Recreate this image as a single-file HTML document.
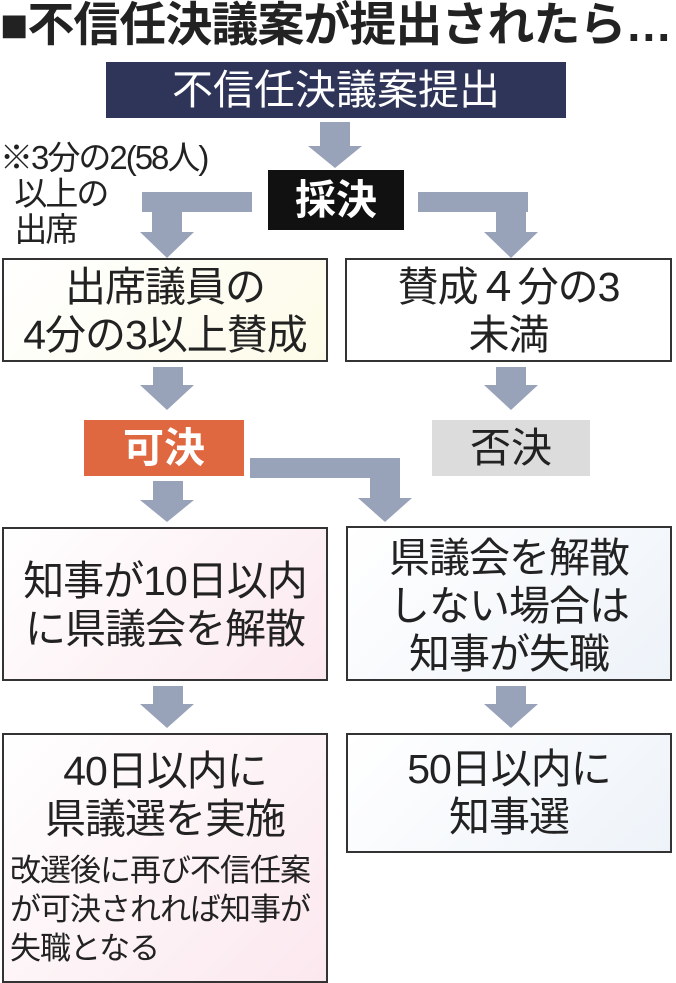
<!DOCTYPE html>
<html><head><meta charset="utf-8"><style>
body{margin:0;width:676px;height:977px;background:#fff;position:relative;overflow:hidden;font-family:"Liberation Sans","Noto Sans CJK JP",sans-serif;color:#222}
.a{position:absolute}
.box{position:absolute;box-sizing:border-box;border:2px solid #333;text-align:center;font-size:41px;line-height:48px;white-space:nowrap;letter-spacing:-1px}
</style></head><body>
<div class="a" style="left:0;top:-2px;font-size:47px;font-weight:bold;line-height:54px;white-space:nowrap;letter-spacing:-1px">■不信任決議案が提出されたら…</div>
<div class="a" style="left:106px;top:62px;width:460px;height:56px;background:#2f3558;color:#fff;font-size:41px;line-height:56px;text-align:center">不信任決議案提出</div>
<svg class="a" style="left:0;top:0" width="676" height="977">
<g fill="#98a2b8">
<rect x="320" y="122" width="30" height="26"/><polygon points="308,146 362,146 335,168"/>
<rect x="142" y="192" width="110" height="20"/><rect x="152" y="192" width="30" height="42"/><polygon points="140,232 194,232 167,258"/>
<rect x="418" y="192" width="110" height="20"/><rect x="496" y="192" width="30" height="42"/><polygon points="484,232 538,232 511,258"/>
<rect x="153" y="367" width="30" height="20"/><polygon points="140,385 194,385 167,410"/>
<rect x="496" y="367" width="30" height="20"/><polygon points="484,385 538,385 511,410"/>
<rect x="153" y="481" width="30" height="20"/><polygon points="140,500 194,500 167,522"/>
<rect x="250" y="458" width="150" height="20"/><rect x="370" y="458" width="30" height="42"/><polygon points="358,498 412,498 385,522"/>
<rect x="153" y="686" width="30" height="20"/><polygon points="140,704 194,704 167,728"/>
<rect x="496" y="686" width="30" height="20"/><polygon points="484,704 538,704 511,728"/>
</g></svg>
<div class="a" style="left:268px;top:170px;width:136px;height:60px;background:#111;color:#fff;font-size:41px;font-weight:bold;line-height:60px;text-align:center">採決</div>
<div class="a" style="left:0;top:140px;font-size:33px;line-height:36px;white-space:nowrap;letter-spacing:-2px">※3分の2(58人)<br>&nbsp;&nbsp;以上の<br>&nbsp;&nbsp;出席</div>
<div class="box" style="left:2px;top:258px;width:326px;height:104px;padding-top:3px;background:linear-gradient(135deg,#fff,#fdfbe8)">出席議員の<br>4分の3以上賛成</div>
<div class="box" style="left:345px;top:258px;width:327px;height:104px;padding-top:3px;background:#fff">賛成４分の3<br>未満</div>
<div class="a" style="left:84px;top:420px;width:160px;height:56px;background:#e06840;color:#fff;font-size:41px;font-weight:bold;line-height:56px;text-align:center">可決</div>
<div class="a" style="left:432px;top:420px;width:158px;height:56px;background:#dcdcdc;font-size:41px;line-height:56px;text-align:center">否決</div>
<div class="box" style="left:2px;top:527px;width:326px;height:154px;padding-top:28px;background:linear-gradient(135deg,#fff,#fbe8ee)">知事が10日以内<br>に県議会を解散</div>
<div class="box" style="left:346px;top:526px;width:326px;height:155px;padding-top:6px;background:linear-gradient(135deg,#fff,#eef3f9)">県議会を解散<br>しない場合は<br>知事が失職</div>
<div class="box" style="left:2px;top:733px;width:326px;height:250px;padding-top:12px;background:linear-gradient(135deg,#fff,#fbe8ee)">40日以内に<br>県議選を実施<div style="text-align:left;font-size:31px;line-height:39px;padding-left:6px;margin-top:8px;white-space:nowrap;letter-spacing:-1px">改選後に再び不信任案<br>が可決されれば知事が<br>失職となる</div></div>
<div class="box" style="left:346px;top:733px;width:326px;height:120px;padding-top:10px;background:linear-gradient(135deg,#fff,#eef3f9)">50日以内に<br>知事選</div>
</body></html>
